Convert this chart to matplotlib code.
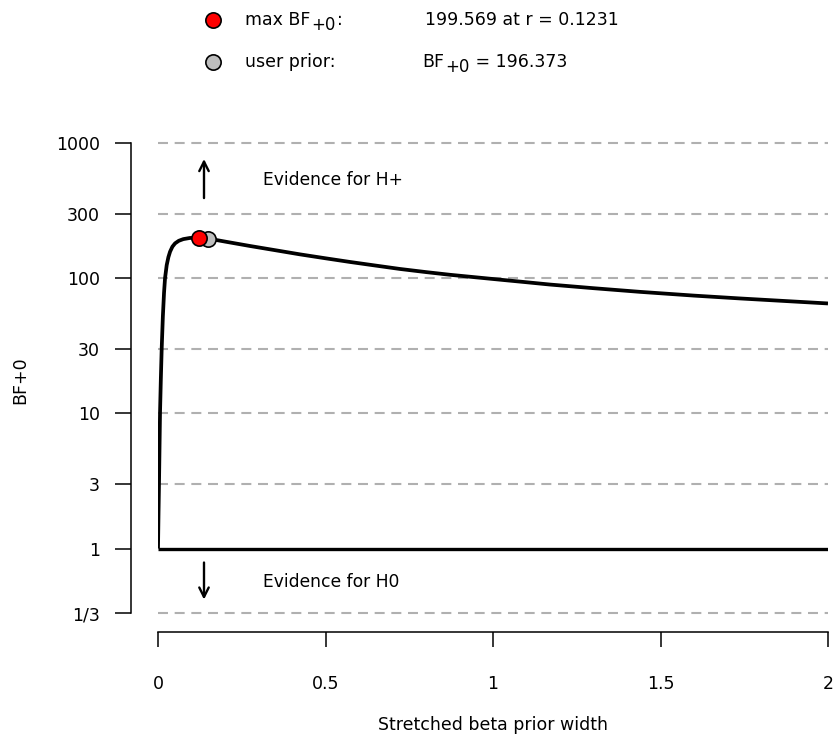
import matplotlib
matplotlib.use("Agg")
import matplotlib.pyplot as plt
from matplotlib.lines import Line2D
import numpy as np

# ---- data ----
r_vals = [0.0, 0.0015, 0.003, 0.0045, 0.006, 0.0085, 0.011, 0.0145, 0.018, 0.021,
          0.026, 0.031, 0.036, 0.043, 0.051, 0.062, 0.0755, 0.095, 0.1231, 0.15,
          0.2, 0.2746, 0.35, 0.4239, 0.5, 0.573, 0.65, 0.722, 0.8, 0.872,
          0.95, 1.0, 1.1, 1.17, 1.3, 1.439, 1.6, 1.737, 1.87, 2.0]
bf_vals = [1.0, 1.8, 3.0, 5.5, 10.0, 18.0, 30.0, 52.0, 78.0, 100.0,
           125.0, 143.0, 157.0, 171.0, 181.0, 189.0, 194.5, 198.3, 199.569, 196.373,
           186.5, 173.0, 161.0, 150.0, 140.3, 131.8, 123.9, 117.0, 110.9, 105.9,
           101.4, 98.6, 93.3, 89.7, 84.3, 79.2, 74.3, 70.8, 67.8, 65.0]
max_r = 0.1231
max_bf = 199.569
user_r = 0.15
user_bf = 196.373
yticks = [1/3, 1, 3, 10, 30, 100, 300, 1000]
ytick_labels = ["1/3", "1", "3", "10", "30", "100", "300", "1000"]
xticks = [0, 0.5, 1, 1.5, 2]
xtick_labels = ["0", "0.5", "1", "1.5", "2"]

W, H = 835, 742
fig = plt.figure(figsize=(W / 100, H / 100), dpi=100)
plt.rcParams['font.family'] = ['DejaVu Sans']

ax = fig.add_axes([158 / W, 1 - 613 / H, (828 - 158) / W, (613 - 143) / H])
ax.set_yscale('log')
ax.set_xlim(0, 2)
ax.set_ylim(1/3, 1000)

# grid lines
for yv in yticks:
    if yv == 1:
        continue
    ax.plot([0, 2], [yv, yv], color='#b0b0b0', lw=1.5, dashes=(4.8, 3.2),
            zorder=1, clip_on=False)

# baseline at 1
ax.plot([0, 2], [1, 1], color='black', lw=2.4, zorder=2, solid_capstyle='butt')
# curve
ax.plot(r_vals, bf_vals, color='black', lw=2.7, zorder=3,
        solid_joinstyle='round', solid_capstyle='butt')
# points
ax.plot([user_r], [user_bf], 'o', ms=11, mfc='#bebebe', mec='black', mew=1.2, zorder=4)
ax.plot([max_r], [max_bf], 'o', ms=11, mfc='#ff0000', mec='black', mew=1.2, zorder=5)

# arrows & evidence texts
def px2data(px, py):
    xr = (px - 158) / 335.0
    yb = 10 ** ((548 - py) / 135.0)
    return xr, yb

a0 = px2data(204, 198); a1 = px2data(204, 159)
ax.annotate('', xy=a1, xytext=a0,
            arrowprops=dict(arrowstyle='->', lw=1.7, color='black',
                            mutation_scale=17, shrinkA=0, shrinkB=0))
b0 = px2data(204, 562); b1 = px2data(204, 599)
ax.annotate('', xy=b1, xytext=b0,
            arrowprops=dict(arrowstyle='->', lw=1.7, color='black',
                            mutation_scale=17, shrinkA=0, shrinkB=0))
t1 = px2data(263, 180)
ax.text(t1[0], t1[1], 'Evidence for H+', fontsize=12.3, va='center', ha='left')
t2 = px2data(263, 581)
ax.text(t2[0], t2[1], 'Evidence for H0', fontsize=12.3, va='center', ha='left')

# axes styling
for s in ['top', 'right']:
    ax.spines[s].set_visible(False)
ax.spines['left'].set_position(('outward', 19.4))
ax.spines['bottom'].set_position(('outward', 13.7))
ax.spines['left'].set_bounds(1/3, 1000)
ax.spines['bottom'].set_bounds(0, 2)
for s in ['left', 'bottom']:
    ax.spines[s].set_linewidth(1.1)
ax.set_yticks(yticks)
ax.set_yticklabels(ytick_labels)
ax.yaxis.set_minor_locator(matplotlib.ticker.NullLocator())
ax.set_xticks(xticks)
ax.set_xticklabels(xtick_labels)
ax.tick_params(axis='y', length=11.5, width=1.1, pad=11, labelsize=12.5)
ax.tick_params(axis='x', length=11, width=1.1, pad=20, labelsize=12.5)
ax.set_facecolor('none')

fig.text(493 / W, 1 - 725 / H, 'Stretched beta prior width', ha='center', va='center', fontsize=12.5)
fig.text(20 / W, 1 - 380 / H, 'BF+0', ha='center', va='center', rotation=90, fontsize=12.5)

# top legend
fig.add_artist(Line2D([213 / W], [1 - 20 / H], marker='o', ms=11, mfc='#ff0000',
                      mec='black', mew=1.2, transform=fig.transFigure))
fig.add_artist(Line2D([213 / W], [1 - 62 / H], marker='o', ms=11, mfc='#bebebe',
                      mec='black', mew=1.2, transform=fig.transFigure))

FS = 12.5
def bf_label(x_px, y_px, prefix, suffix):
    t = fig.text(x_px / W, 1 - y_px / H, prefix, ha='left', va='center', fontsize=FS)
    sub = fig.text(0, 0, '+0', fontsize=FS * 0.95, ha='left', va='center')
    sub.set_transform(matplotlib.transforms.IdentityTransform())
    fig.canvas.draw()
    r = fig.canvas.get_renderer()
    bb = t.get_window_extent(r)
    sub.set_position((bb.x1 + 1, (bb.y0 + bb.y1) / 2 - 5))
    bb2 = sub.get_window_extent(r)
    suf = fig.text(0, 0, suffix, fontsize=FS, ha='left', va='center')
    suf.set_transform(matplotlib.transforms.IdentityTransform())
    suf.set_position((bb2.x1 + 1, (bb.y0 + bb.y1) / 2))
    return t

bf_label(245, 20, 'max BF', ':')
fig.text(425 / W, 1 - 20 / H, '199.569 at r = 0.1231', ha='left', va='center', fontsize=FS)
fig.text(245 / W, 1 - 62 / H, 'user prior:', ha='left', va='center', fontsize=FS)
bf_label(422, 62, 'BF', ' = 196.373')

fig.savefig('out.png', dpi=100)
